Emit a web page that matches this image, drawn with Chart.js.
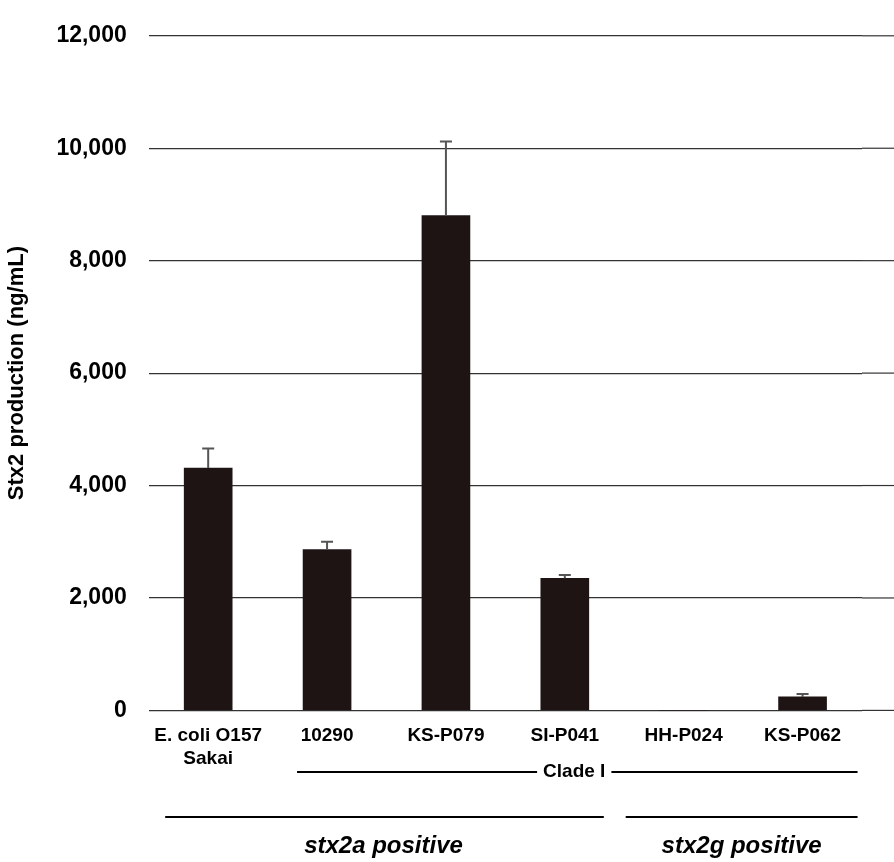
<!DOCTYPE html>
<html><head><meta charset="utf-8">
<script src="https://cdn.jsdelivr.net/npm/chart.js@4"></script>
<style>body{margin:0;background:#fff}#wrap{width:894px;height:862px}</style>
</head><body><div id="wrap"><canvas id="c"></canvas></div>
<script>
const strains = [['E. coli O157', 'Sakai'], '10290', 'KS-P079', 'SI-P041', 'HH-P024', 'KS-P062'];
const production = [4310, 2860, 8800, 2350, 0, 240];
const errorUp = [350, 140, 1320, 60, 0, 50];
const yTicks = [0, 2000, 4000, 6000, 8000, 10000, 12000];

// error bars (upper whisker only) + group brackets under the axis
const extras = {
  id: 'extras',
  beforeDatasetsDraw(chart) {
    const ctx = chart.ctx, y = chart.scales.y, a = chart.chartArea;
    ctx.save();
    ctx.strokeStyle = '#333';
    ctx.lineWidth = 1.2;
    yTicks.forEach(v => {
      const py = y.getPixelForValue(v);
      ctx.beginPath(); ctx.moveTo(a.right, py); ctx.lineTo(chart.width, py); ctx.stroke();
    });
    ctx.restore();
  },
  afterDatasetsDraw(chart) {
    const ctx = chart.ctx, x = chart.scales.x, y = chart.scales.y;
    ctx.save();
    ctx.strokeStyle = '#555';
    ctx.lineWidth = 2;
    production.forEach((v, i) => {
      if (!errorUp[i]) return;
      const px = x.getPixelForValue(i);
      const top = y.getPixelForValue(v + errorUp[i]);
      ctx.beginPath();
      ctx.moveTo(px, y.getPixelForValue(v)); ctx.lineTo(px, top);
      ctx.moveTo(px - 6, top); ctx.lineTo(px + 6, top);
      ctx.stroke();
    });
    ctx.strokeStyle = '#000';
    ctx.fillStyle = '#000';
    ctx.textAlign = 'center';
    ctx.textBaseline = 'middle';
    // Clade I
    const cy = 772, cx1 = x.getPixelForValue(1) - 30, cx2 = x.getPixelForValue(5) + 55;
    ctx.font = 'bold 19px Arial, "Liberation Sans"';
    const cmid = (x.getPixelForValue(3) + x.getPixelForValue(4)) / 2 - 50;
    const tw = ctx.measureText('Clade I').width / 2 + 6;
    ctx.beginPath();
    ctx.moveTo(cx1, cy); ctx.lineTo(cmid - tw, cy);
    ctx.moveTo(cmid + tw, cy); ctx.lineTo(cx2, cy);
    ctx.stroke();
    ctx.fillText('Clade I', cmid, cy);
    // stx2a / stx2g
    const by = 817;
    const a1 = x.getPixelForValue(0) - 43, a2 = x.getPixelForValue(3) + 39;
    const g1 = x.getPixelForValue(4) - 58, g2 = cx2;
    ctx.beginPath();
    ctx.moveTo(a1, by); ctx.lineTo(a2, by);
    ctx.moveTo(g1, by); ctx.lineTo(g2, by);
    ctx.stroke();
    ctx.font = 'italic bold 24px Arial, "Liberation Sans"';
    ctx.fillText('stx2a positive', (a1 + a2) / 2 - 1, 846);
    ctx.fillText('stx2g positive', (g1 + g2) / 2, 846);
    ctx.restore();
  }
};

new Chart(document.getElementById('c'), {
  type: 'bar',
  data: {
    labels: strains,
    datasets: [{ data: production, backgroundColor: '#1e1414', barThickness: 48 }]
  },
  options: {
    responsive: true,
    maintainAspectRatio: false,
    animation: false,
    layout: { padding: { top: 0, right: 32, bottom: 86, left: 0 } },
    plugins: { legend: { display: false }, tooltip: { enabled: false } },
    scales: {
      x: {
        grid: { display: false },
        border: { display: false },
        ticks: { color: '#000', font: { family: 'Arial, "Liberation Sans"', weight: 'bold', size: 19 }, padding: 6, maxRotation: 0 }
      },
      y: {
        min: 0, max: 12000,
        afterBuildTicks: s => { s.ticks = yTicks.map(v => ({ value: v })); },
        grid: { color: '#333', lineWidth: 1.2, drawTicks: false },
        border: { display: false },
        ticks: { color: '#000', padding: 22, font: { family: 'Arial, "Liberation Sans"', weight: 'bold', size: 23 },
          callback: v => v.toLocaleString('en-US') },
        title: { display: true, text: 'Stx2 production (ng/mL)', color: '#000',
          font: { family: 'Arial, "Liberation Sans"', weight: 'bold', size: 22 }, padding: 4 }
      }
    }
  },
  plugins: [extras]
});
</script></body></html>
